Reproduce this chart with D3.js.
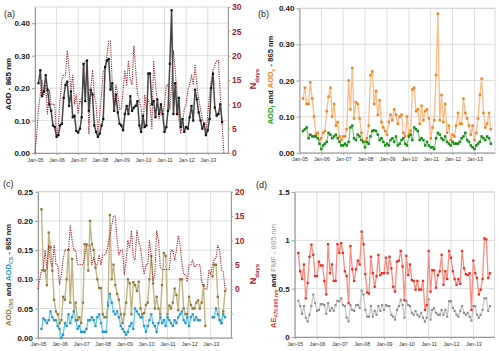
<!DOCTYPE html>
<html>
<head>
<meta charset="utf-8">
<script src="https://cdn.jsdelivr.net/npm/d3@7"></script>
<style>
  body { margin: 0; background: #fff; }
  svg { display: block; font-family: "Liberation Sans", Arial, sans-serif; }
</style>
</head>
<body>
<svg id="chart" width="500" height="351"></svg>
<script>
// month index 0 = Jan 2005, every array starts at its own month index

// (a) total AOD and number of days
const aodStart = 2;
const aod865 = [0.215,0.255,0.175,0.19,0.24,0.195,0.15,0.13,0.085,0.08,
  0.05,0.055,0.085,0.09,0.17,0.21,0.22,0.145,0.19,0.11,0.115,0.068,
  0.063,0.075,0.11,0.275,0.16,0.285,0.13,0.195,0.18,0.085,0.065,0.05,
  0.06,0.085,0.105,0.265,0.285,0.29,0.195,0.215,0.13,0.18,0.125,0.09,
  0.085,0.07,0.12,0.145,0.12,0.175,0.13,0.14,0.145,0.16,0.085,0.065,
  0.115,0.08,0.085,0.245,0.245,0.15,0.16,0.11,0.165,0.12,0.15,0.12,
  0.065,0.08,0.13,0.275,0.44,0.12,0.215,0.12,0.17,0.08,0.105,0.065,
  0.08,0.075,0.11,0.145,0.10,0.195,0.165,0.125,0.10,0.075,0.09,0.055,
  0.07,0.105,0.2,0.245,0.14,0.115,0.12,0.15,0.095];

const daysStart = 0;
const nDaysA = [0,4,9,12,15,12,14,8,13,10,10,10,
  3,6,11,15,16,16,21,17,13,16,10,12,
  8,11,10,16,19,19,4,13,17,12,10,4,
  8,12,17,17,20,23,23,14,10,14,12,9,
  9,13,17,14,19,15,14,22,17,12,11,9,
  5,12,9,11,10,5,19,14,11,7,9,8,
  10,14,14,9,14,21,17,12,7,4,6,9,
  10,13,14,16,14,18,14,11,9,7,6,4,
  8,12,15,17,18,19,19,12,6,0];

// (b) fine and coarse mode AOD
const modeStart = 2;
const aodFine = [0.06,0.065,0.07,0.04,0.05,0.045,0.045,0.045,0.04,0.025,
  0.01,0.02,0.025,0.03,0.055,0.05,0.04,0.045,0.05,0.04,0.03,0.02,
  0.02,0.025,0.02,0.03,0.07,0.075,0.04,0.035,0.05,0.045,0.035,0.03,
  0.015,0.03,0.025,0.045,0.06,0.062,0.06,0.05,0.035,0.04,0.03,0.02,
  0.025,0.02,0.035,0.04,0.03,0.045,0.02,0.025,0.035,0.04,0.025,0.02,
  0.045,0.05,0.035,0.07,0.065,0.06,0.035,0.04,0.035,0.02,0.03,0.02,
  0.015,0.015,0.01,0.04,0.055,0.05,0.04,0.035,0.045,0.03,0.025,0.02,
  0.03,0.025,0.025,0.025,0.03,0.04,0.045,0.055,0.035,0.03,0.02,0.015,
  0.01,0.02,0.025,0.03,0.045,0.04,0.035,0.045,0.04,0.025];
const aodCoarse = [0.15,0.18,0.135,0.135,0.195,0.15,0.10,0.05,0.055,0.035,
  0.04,0.055,0.06,0.115,0.155,0.18,0.10,0.135,0.075,0.085,0.045,0.035,
  0.045,0.045,0.065,0.20,0.12,0.235,0.095,0.14,0.135,0.095,0.055,0.03,
  0.03,0.04,0.075,0.215,0.225,0.135,0.17,0.105,0.145,0.085,0.07,0.06,
  0.05,0.085,0.105,0.09,0.12,0.105,0.08,0.10,0.105,0.055,0.045,0.10,
  0.05,0.06,0.175,0.18,0.115,0.12,0.08,0.13,0.09,0.115,0.12,0.095,
  0.04,0.07,0.09,0.215,0.385,0.09,0.16,0.085,0.135,0.055,0.075,0.035,
  0.05,0.045,0.075,0.11,0.08,0.08,0.15,0.11,0.095,0.075,0.05,0.075,
  0.035,0.055,0.095,0.16,0.205,0.11,0.07,0.08,0.11,0.065];

// (c) coarse non-spherical / spherical AOD and number of days
const shapeStart = 2;
const aodCns = [0.22,0.115,0.115,0.09,0.18,0.155,0.115,0.065,0.045,0.04,
  0.025,0.03,0.07,0.065,0.10,0.15,0.06,0.135,0.045,0.06,0.03,0.035,
  0.025,0.06,0.16,0.16,0.115,0.20,0.16,0.15,0.12,0.10,0.085,0.085,
  0.04,0.035,0.035,0.06,0.21,0.10,0.125,0.09,0.075,0.065,0.04,0.025,
  0.04,0.06,0.10,0.093,0.04,0.095,0.09,0.08,0.096,0.05,0.04,0.042,
  0.056,0.06,0.10,0.14,0.093,0.05,0.07,0.05,0.04,0.09,0.145,0.14,
  0.04,0.055,0.05,0.06,0.084,0.073,0.047,0.10,0.10,0.05,0.04,0.04,
  0.07,0.056,0.05,0.05,0.06,0.064,0.05,0.06,0.09,0.02,null,null,
  null,0.105,0.125,0.125,0.07,0.03,0.025,0.045,0.08];
const aodCs = [0.015,0.033,0.03,0.025,0.03,0.045,0.035,0.03,0.03,0.02,
  0.015,0.0,0.005,0.025,0.02,0.04,0.025,0.035,0.045,0.03,0.015,0.02,
  0.01,0.01,0.01,0.015,0.03,0.03,0.035,0.03,0.02,0.035,0.04,0.025,
  0.01,0.01,0.01,0.055,0.075,0.06,0.045,0.04,0.045,0.035,0.02,0.015,
  0.01,0.005,0.01,0.02,0.025,0.015,0.05,0.045,0.04,0.035,0.035,0.02,
  0.01,0.02,0.03,0.04,0.025,0.02,0.01,0.025,0.035,0.025,0.03,0.02,
  0.035,0.03,0.025,0.02,0.03,0.025,0.035,0.04,0.045,0.03,0.025,0.035,
  0.02,0.035,0.04,0.03,0.035,0.03,0.03,null,null,null,null,null,
  null,0.035,0.035,0.05,0.04,0.03,0.025,0.04,0.035];
const nDaysC = [0,2,4,4,8,4,9,5.5,4.5,9,5,5,
  1,3,6,8,8,8,13,10,8,8,5,5,
  5,5,6.5,9,9,9,5,6.5,5,5,7,5,
  7,7,7.5,9,11,13,15,15,10,7,8,8,
  3,6,10,8.5,12,6.5,6,12,9.6,8.5,5.5,3,
  5,5,10,7,1.7,3,12,10,4.5,4,4,4,
  4,4,8,8,6,8,11,9,5.5,3,3,1.5,
  5,5,6,4.5,5,5,5,1.5,0.7,0,0,4,
  3,5,6,6.5,9,8,4,3.5,0,0];

// (d) Angstrom exponent and fine mode fraction
const aeStart = 2;
const ae470865 = [0.87,0.68,0.60,0.75,0.40,0.56,0.83,0.955,0.85,0.63,
  0.63,0.78,0.74,0.74,0.58,0.44,0.96,0.66,0.75,0.58,0.58,0.96,
  0.87,0.97,0.87,0.68,0.63,0.35,0.94,0.70,0.58,0.70,0.79,0.75,
  1.09,0.96,0.65,0.46,0.45,0.83,0.66,0.52,0.63,0.85,0.64,0.66,
  0.66,0.82,0.66,0.83,0.71,0.52,0.47,0.78,0.79,0.89,0.73,0.38,
  0.84,0.64,0.75,0.59,0.58,0.49,0.58,0.49,0.49,0.58,0.28,0.33,
  0.89,0.47,0.69,0.69,0.51,0.64,0.68,0.85,0.54,0.68,0.60,0.89,
  0.82,0.68,0.60,0.54,0.60,0.55,0.89,0.71,0.65,0.64,0.66,0.28,
  0.79,0.66,0.61,0.44,0.49,0.60,1.02,1.01,0.61,0.66];
const fmf865 = [0.375,0.32,0.24,0.32,0.20,0.16,0.23,0.32,0.44,0.35,
  0.27,0.28,0.34,0.34,0.33,0.24,0.35,0.27,0.30,0.27,0.33,0.375,
  0.37,0.40,0.33,0.32,0.20,0.16,0.33,0.28,0.27,0.33,0.33,0.30,
  0.48,0.44,0.28,0.21,0.21,0.32,0.21,0.27,0.23,0.32,0.27,0.33,
  0.28,0.33,0.32,0.32,0.23,0.21,0.18,0.28,0.32,0.385,0.33,0.20,
  0.37,0.33,0.32,0.25,0.23,0.27,0.23,0.21,0.25,0.20,0.16,0.20,
  0.39,0.18,0.28,0.30,0.25,0.23,0.23,0.28,0.23,0.28,0.21,0.37,
  0.37,0.30,0.27,0.23,0.21,0.27,0.32,0.25,0.23,0.25,0.21,0.17,
  0.32,0.32,0.23,0.20,0.23,0.28,0.40,0.40,0.27,0.32];

const svg = d3.select("#chart");
const xDomain = [new Date(2005, 0, 1), new Date(2013, 11, 10)];
const januaries = d3.range(2005, 2014).map(yr => new Date(yr, 0, 1));
const nRed = "#a3232b";

function toPoints(start, values) {
  return values.map((v, i) => ({ date: new Date(2005, start + i, 1), v }));
}

function styleAxis(a, size, bold, color) {
  a.select(".domain").attr("stroke", "#9a9a9a");
  a.selectAll(".tick line").attr("stroke", "#9a9a9a");
  a.selectAll("text")
    .attr("font-size", size)
    .attr("font-weight", bold ? "bold" : "normal")
    .attr("fill", color || "#1a1a1a");
}

function panel(o) {
  const x = d3.scaleTime().domain(xDomain).range([o.left, o.right]);
  const y = d3.scaleLinear().domain(o.yDomain).range([o.bottom, o.top]);
  const g = svg.append("g");

  // gridlines
  g.append("g").selectAll("line").data(o.yTicks).join("line")
    .attr("x1", o.left).attr("x2", o.right)
    .attr("y1", d => y(d)).attr("y2", d => y(d))
    .attr("stroke", "#d6d6d6").attr("stroke-width", 0.8);
  g.append("g").selectAll("line").data(januaries).join("line")
    .attr("x1", d => x(d)).attr("x2", d => x(d))
    .attr("y1", o.top).attr("y2", o.bottom)
    .attr("stroke", "#d6d6d6").attr("stroke-width", 0.8);
  g.append("rect")
    .attr("x", o.left).attr("y", o.top)
    .attr("width", o.right - o.left).attr("height", o.bottom - o.top)
    .attr("fill", "none").attr("stroke", "#cfcfcf").attr("stroke-width", 0.8);

  g.append("g").attr("transform", `translate(${o.left},0)`)
    .call(d3.axisLeft(y).tickValues(o.yTicks).tickFormat(o.yFormat)
      .tickSize(3).tickSizeOuter(0).tickPadding(2))
    .call(a => styleAxis(a, 8, true));

  g.append("g").attr("transform", `translate(0,${o.bottom})`)
    .call(d3.axisBottom(x).tickValues(januaries).tickFormat(d3.timeFormat("%b-%y"))
      .tickSize(2).tickSizeOuter(0).tickPadding(3))
    .call(a => styleAxis(a, 5.2, false, "#333"));

  return { g, x, y };
}

function series(p, y, start, values, s) {
  const pts = toPoints(start, values);
  const line = d3.line()
    .defined(d => d.v != null)
    .x(d => p.x(d.date)).y(d => y(d.v));
  p.g.append("path").datum(pts)
    .attr("fill", "none")
    .attr("stroke", s.line)
    .attr("stroke-width", s.width)
    .attr("stroke-dasharray", s.dash || null)
    .attr("stroke-linejoin", "round")
    .attr("d", line);
  if (s.marker) {
    const m = s.size;
    p.g.append("g").selectAll("rect").data(pts.filter(d => d.v != null)).join("rect")
      .attr("x", d => p.x(d.date) - m / 2)
      .attr("y", d => y(d.v) - m / 2)
      .attr("width", m).attr("height", m)
      .attr("fill", s.marker);
  }
}

function richLabel(x, y, parts, size, rotate) {
  const t = svg.append("text")
    .attr("transform", `translate(${x},${y}) rotate(${rotate})`)
    .attr("text-anchor", "middle")
    .attr("font-size", size)
    .attr("font-weight", "bold")
    .style("white-space", "pre");
  let shift = 0;
  parts.forEach(part => {
    const target = part.sub ? size * 0.3 : 0;
    t.append("tspan")
      .attr("dy", target - shift)
      .attr("fill", part.color)
      .attr("font-weight", part.normal ? "normal" : "bold")
      .attr("font-size", part.sub ? size * 0.68 : size)
      .text(part.t);
    shift = target;
  });
}

function rightAxis(p, y2, xPos, ticks) {
  p.g.append("g").attr("transform", `translate(${xPos},0)`)
    .call(d3.axisRight(y2).tickValues(ticks)
      .tickFormat(d => d >= 0 ? d : "").tickSize(2).tickSizeOuter(0).tickPadding(2))
    .call(a => styleAxis(a, 8.5, true, nRed));
}

// ---------- (a)
const pa = panel({ left: 35, right: 228, top: 7, bottom: 153,
  yDomain: [0, 0.45], yTicks: [0, 0.1, 0.2, 0.3, 0.4], yFormat: d3.format(".2f") });
const ya2 = d3.scaleLinear().domain([0, 30]).range([153, 7]);
series(pa, ya2, daysStart, nDaysA, { line: nRed, width: 1.1, dash: "1.2,1.1" });
series(pa, pa.y, aodStart, aod865, { line: "#454545", width: 1.5, marker: "#111", size: 2.2 });
rightAxis(pa, ya2, 228, d3.range(0, 31, 5));

// ---------- (b)
const pb = panel({ left: 299.5, right: 495, top: 8.3, bottom: 152.7,
  yDomain: [0, 0.4], yTicks: [0, 0.1, 0.2, 0.3, 0.4], yFormat: d3.format(".2f") });
series(pb, pb.y, modeStart, aodCoarse, { line: "#fdbb85", width: 1.3, marker: "#f5821f", size: 2.5 });
series(pb, pb.y, modeStart, aodFine, { line: "#7cc47c", width: 1.2, marker: "#178c17", size: 2.5 });

// ---------- (c)
const pc = panel({ left: 38, right: 231, top: 191.7, bottom: 337.7,
  yDomain: [0, 0.25], yTicks: [0, 0.05, 0.1, 0.15, 0.2, 0.25], yFormat: d3.format(".2f") });
const yc2 = d3.scaleLinear().domain([-10, 20]).range([337.7, 191.7]);
series(pc, pc.y, shapeStart, aodCns, { line: "#c2b482", width: 1.4, marker: "#8a7a3a", size: 2.3 });
series(pc, pc.y, shapeStart, aodCs, { line: "#63c8ea", width: 1.3, marker: "#2496c4", size: 2.3 });
series(pc, yc2, daysStart, nDaysC, { line: nRed, width: 1.1, dash: "1.2,1.1" });
rightAxis(pc, yc2, 231, d3.range(-10, 21, 5));

// ---------- (d)
const pd = panel({ left: 294.7, right: 494.3, top: 192, bottom: 337,
  yDomain: [0, 1.5], yTicks: [0, 0.5, 1, 1.5], yFormat: d3.format("") });
series(pd, pd.y, aeStart, fmf865, { line: "#c4c4c4", width: 1.2, marker: "#8c8c8c", size: 2.1 });
series(pd, pd.y, aeStart, ae470865, { line: "#ff8a80", width: 1.3, marker: "#ec2b22", size: 2.3 });

// panel letters
[["(a)", 4, 17], ["(b)", 258, 17], ["(c)", 3, 187], ["(d)", 256, 188]].forEach(([t, x, y]) =>
  svg.append("text").attr("x", x).attr("y", y).attr("font-size", 9).attr("fill", "#222").text(t));

// axis titles
richLabel(11, 84, [{ t: "AOD - 865 nm", color: "#111" }], 8, -90);
richLabel(256, 79, [{ t: "N", color: nRed }, { t: "days", color: nRed, sub: true }], 9, -90);
richLabel(273, 80, [
  { t: "AOD", color: "#1a9a1a" }, { t: "f", color: "#1a9a1a", sub: true },
  { t: " and ", color: "#222" },
  { t: "AOD", color: "#f5821f" }, { t: "c", color: "#f5821f", sub: true },
  { t: " - 865 nm", color: "#222" }], 7.6, -90);
richLabel(11, 275, [
  { t: "AOD", color: "#8a7a3a" }, { t: "CNS", color: "#8a7a3a", sub: true },
  { t: " and ", color: "#222" },
  { t: "AOD", color: "#2496c4" }, { t: "CS", color: "#2496c4", sub: true },
  { t: " - 865 nm", color: "#222" }], 7.6, -90);
richLabel(256, 274, [{ t: "N", color: nRed }, { t: "days", color: nRed, sub: true }], 9, -90);
richLabel(276, 276, [
  { t: "AE", color: "#f2372e" }, { t: "470-865 nm", color: "#f2372e", sub: true },
  { t: " and ", color: "#222" },
  { t: "FMF - 865 nm", color: "#9a9a9a", normal: true }], 7.6, -90);
</script>
</body>
</html>
